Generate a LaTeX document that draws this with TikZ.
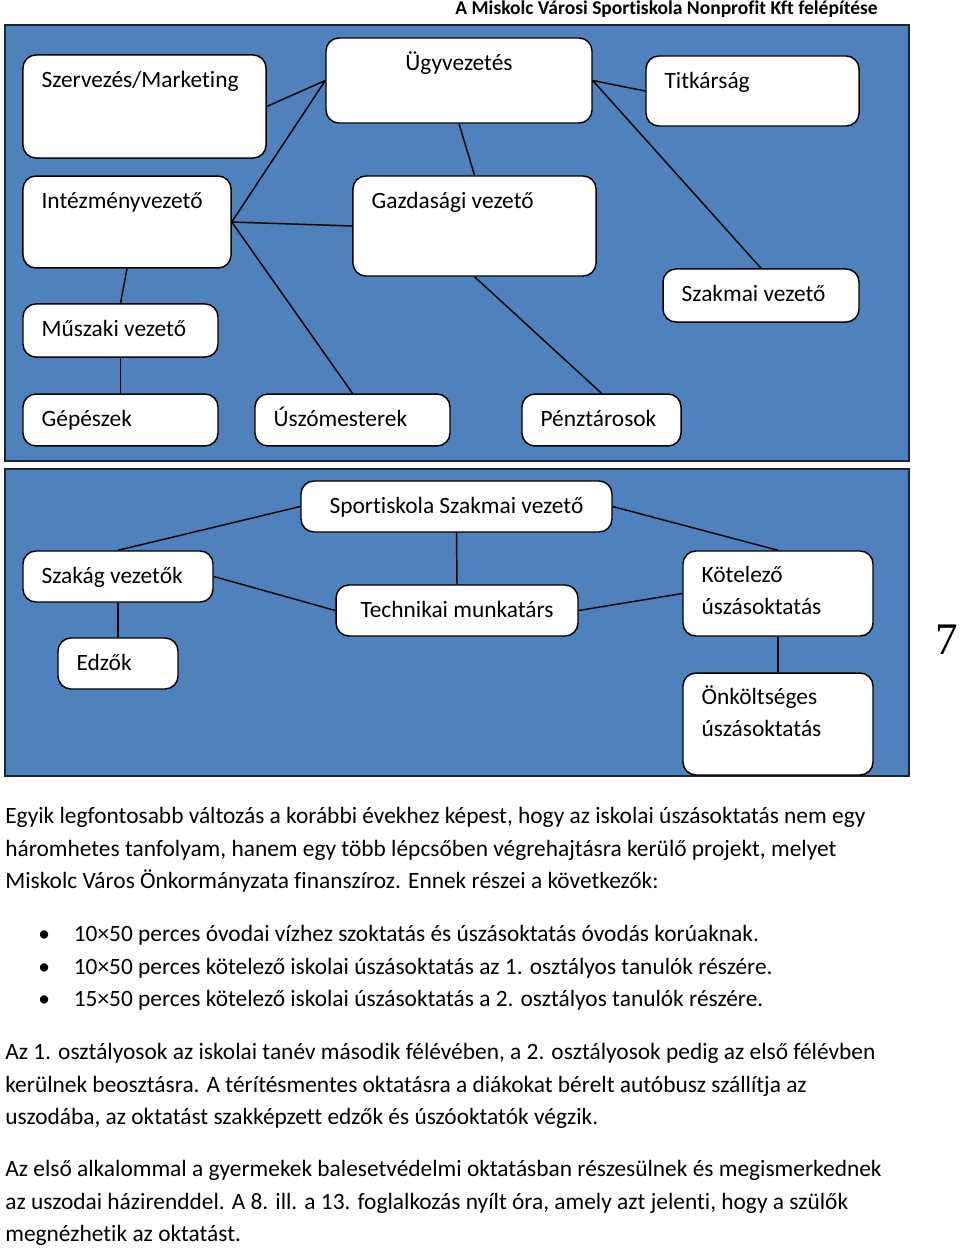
\documentclass[tikz,border=0pt]{standalone}
\usepackage{fontspec}
\setmainfont{Carlito}[Ligatures=NoCommon]
\newfontfamily\numfont{Liberation Serif}
\usetikzlibrary{positioning}
\definecolor{panelblue}{HTML}{4F81BD}
\definecolor{paneledge}{HTML}{1B2433}

\begin{document}
\begin{tikzpicture}[x=0.62pt, y=-0.62pt,
  every node/.style={font=\fontsize{14.5}{19.8}\selectfont},
  panel/.style={draw=paneledge, line width=1.3pt, fill=panelblue},
  box/.style={draw, line width=0.9pt, fill=white, rounded corners=8pt, inner sep=0pt},
  lbl/.style={anchor=base west, inner sep=0pt, xshift=11.8pt, yshift=-20.4pt, align=left},
  lbltwo/.style={anchor=base west, inner sep=0pt, xshift=11.8pt, yshift=-40pt, align=left},
  clbl/.style={anchor=base, inner sep=0pt, yshift=-20.4pt},
  para/.style={anchor=base west, inner sep=0pt, align=left, font=\fontsize{14.5}{20.15}\selectfont},
  link/.style={line width=0.9pt}]
  \useasboundingbox (0,0) rectangle (960,1249);
  \node [anchor=base east, inner sep=0pt, font=\bfseries\fontsize{12.1}{14}\selectfont] (cim) at (878,15) {A Miskolc Városi Sportiskola Nonprofit Kft felépítése};

  \draw [panel] (5,25) rectangle (909,461);
  \draw [panel] (5,469) rectangle (909,776);

  \node [box, minimum width=150.7pt, minimum height=63.9pt, label={[lbl]north west:Szervezés/Marketing}] (szervezes) at (144.5,106.5) {};
  \node [box, minimum width=164.9pt, minimum height=52.7pt, label={[clbl]north:Ügyvezetés}] (ugyvezetes) at (459,80.5) {};
  \node [box, minimum width=132.1pt, minimum height=43.4pt, label={[lbl]north west:Titkárság}] (titkarsag) at (752.5,91) {};
  \node [box, minimum width=129.0pt, minimum height=57.0pt, label={[lbl]north west:Intézményvezető}] (intezmeny) at (127,222) {};
  \node [box, minimum width=150.7pt, minimum height=62.0pt, label={[lbl]north west:Gazdasági vezető}] (gazdasagi) at (474.5,226) {};
  \node [box, minimum width=121.5pt, minimum height=32.9pt, label={[lbl]north west:Szakmai vezető}] (szakmai) at (761,295.5) {};
  \node [box, minimum width=120.9pt, minimum height=32.9pt, label={[lbl]north west:Műszaki vezető}] (muszaki) at (120.5,330.5) {};
  \node [box, minimum width=120.9pt, minimum height=32.2pt, label={[lbl]north west:Gépészek}] (gepeszek) at (120.5,420) {};
  \node [box, minimum width=120.9pt, minimum height=32.2pt, label={[lbl]north west:Úszómesterek}] (uszomester) at (352.5,420) {};
  \node [box, minimum width=98.6pt, minimum height=32.2pt, label={[lbl]north west:Pénztárosok}] (penztaros) at (601.5,420) {};

  \draw [link] (szervezes.east) -- (ugyvezetes.west);
  \draw [link] (ugyvezetes.west) -- (intezmeny.east);
  \draw [link] (ugyvezetes.south) -- (gazdasagi.north);
  \draw [link] (ugyvezetes.east) -- (titkarsag.west);
  \draw [link] (ugyvezetes.east) -- (szakmai.north);
  \draw [link] (intezmeny.east) -- (gazdasagi.west);
  \draw [link] (intezmeny.east) -- (uszomester.north);
  \draw [link] (intezmeny.south) -- (muszaki.north);
  \draw [link] (muszaki.south) -- (gepeszek.north);
  \draw [link] (gazdasagi.south) -- (penztaros.north);

  \node [box, minimum width=192.8pt, minimum height=31.6pt, label={[clbl]north:Sportiskola Szakmai vezető}] (sportiskola) at (456.5,506.5) {};
  \node [box, minimum width=117.8pt, minimum height=31.6pt, label={[lbl]north west:Szakág vezetők}] (szakag) at (118,576.5) {};
  \node [box, minimum width=150.0pt, minimum height=31.6pt, label={[clbl]north:Technikai munkatárs}] (technikai) at (457,610.5) {};
  \node [box, minimum width=117.8pt, minimum height=52.7pt, label={[lbltwo]north west:Kötelező\\úszásoktatás}] (kotelezo) at (778,593.5) {};
  \node [box, minimum width=74.4pt, minimum height=31.6pt, label={[lbl]north west:Edzők}] (edzok) at (118,663.5) {};
  \node [box, minimum width=117.8pt, minimum height=63.2pt, label={[lbltwo]north west:Önköltséges\\úszásoktatás}] (onkoltseges) at (778,724) {};

  \draw [link] (sportiskola.west) -- (szakag.north);
  \draw [link] (sportiskola.east) -- (kotelezo.north);
  \draw [link] (sportiskola.south) -- (technikai.north);
  \draw [link] (szakag.east) -- (technikai.west);
  \draw [link] (technikai.east) -- (kotelezo.west);
  \draw [link] (szakag.south) -- (edzok.north);
  \draw [link] (kotelezo.south) -- (onkoltseges.north);

  \node [anchor=base west, inner sep=0pt, font=\numfont\fontsize{28}{30}\selectfont] (oldalszam) at (935,654) {7};

  \node [para] (bekezdes1) at (5,888.5) {Egyik legfontosabb változás a korábbi évekhez képest, hogy az iskolai úszásoktatás nem egy\\háromhetes tanfolyam, hanem egy több lépcsőben végrehajtásra kerülő projekt, melyet\\Miskolc Város Önkormányzata finanszíroz. Ennek részei a következők:};
  \node [para] (felsorolas) at (38,1006.5) {\makebox[22pt][l]{\textbullet}10×50 perces óvodai vízhez szoktatás és úszásoktatás óvodás korúaknak.\\\makebox[22pt][l]{\textbullet}10×50 perces kötelező iskolai úszásoktatás az 1. osztályos tanulók részére.\\\makebox[22pt][l]{\textbullet}15×50 perces kötelező iskolai úszásoktatás a 2. osztályos tanulók részére.};
  \node [para] (bekezdes2) at (5,1124.5) {Az 1. osztályosok az iskolai tanév második félévében, a 2. osztályosok pedig az első félévben\\kerülnek beosztásra. A térítésmentes oktatásra a diákokat bérelt autóbusz szállítja az\\uszodába, az oktatást szakképzett edzők és úszóoktatók végzik.};
  \node [para] (bekezdes3) at (5,1241.5) {Az első alkalommal a gyermekek balesetvédelmi oktatásban részesülnek és megismerkednek\\az uszodai házirenddel. A 8. ill. a 13. foglalkozás nyílt óra, amely azt jelenti, hogy a szülők\\megnézhetik az oktatást.};
\end{tikzpicture}
\end{document}
